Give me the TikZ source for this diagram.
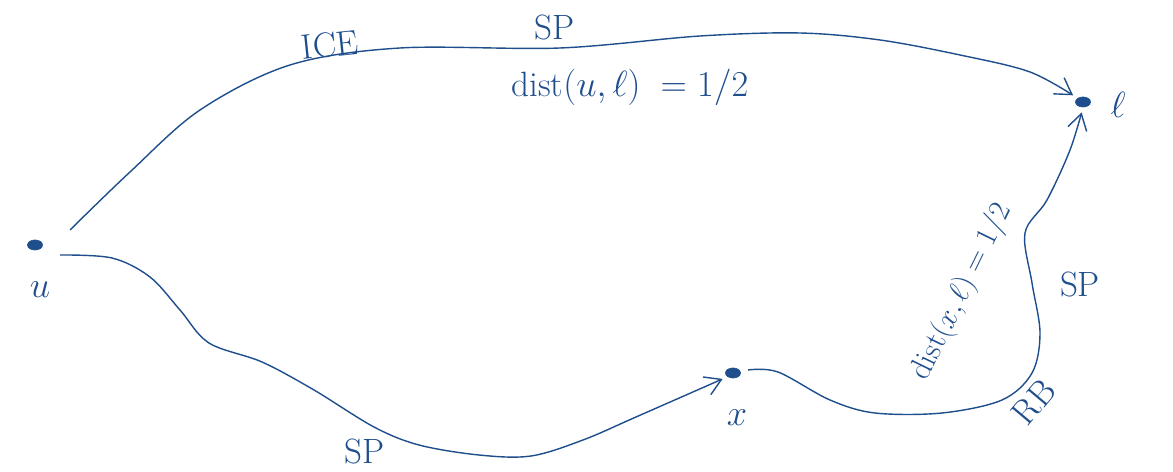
\documentclass[tikz,border=0pt]{standalone}
\usetikzlibrary{arrows.meta,calc,shapes.geometric}
\definecolor{ink}{HTML}{1F4E8C}
\begin{document}
\begin{tikzpicture}[x=0.02cm,y=-0.02cm,
  dot/.style={ellipse,fill=ink,draw=ink,minimum width=0.3cm,minimum height=0.2cm,inner sep=0pt},
  lab/.style={text=ink,font=\fontsize{20}{24}\selectfont,inner sep=1pt},
  edge/.style={draw=ink,line width=0.8pt},
  tip/.style={-{Straight Barb[length=9pt,width=11pt]},shorten >=3pt}]
\useasboundingbox (0,0) rectangle (1173,472);
% vertices
\node[dot] (u) at (35,245) {};
\node[dot] (x) at (733,373) {};
\node[dot] (l) at (1083,102) {};
\node[lab] (ul) at (40,290) {$u$};
\node[lab] (xl) at (737,418) {$x$};
\node[lab] (ll) at (1118,105) {$\ell$};
% start points
\coordinate (us) at ($(u)+(35,-15)$);
\coordinate (ub) at ($(u)+(25,10)$);
\coordinate (xs) at ($(x)+(15,-3)$);
% top path u -> l
\draw[edge,tip] plot[smooth,tension=0.55] coordinates {(us) (130,172) (200,110) (290,65) (400,48) (560,48) (700,36) (800,33) (880,40) (960,55) (1030,72) (l.north west)};
% bottom path u -> x
\draw[edge,tip] plot[smooth,tension=0.55] coordinates {(ub) (112,258) (150,277) (180,310) (209,343) (262,362) (314,390) (374,427) (419,445) (479,455) (531,456) (583,440) (636,417) (x.south west)};
% right path x -> l
\draw[edge,tip] plot[smooth,tension=0.55] coordinates {(xs) (778,372) (830,400) (875,413) (942,413) (1002,400) (1032,373) (1040,333) (1032,283) (1025,233) (1047,200) (1070,150) (l.south)};
% labels
\node[lab,rotate=6] (ice) at (330,45) {ICE};
\node[lab] (sptop) at (555,28) {SP};
\node[lab] (dul) at (630,87) {dist$(u,\ell)\;=1/2$};
\node[lab] (spr) at (1080,285) {SP};
\node[lab,rotate=50] (rb) at (1034,402) {RB};
\node[lab] (spb) at (365,452) {SP};
\node[lab,rotate=64,font=\fontsize{18}{22}\selectfont] (dxl) at (962,292) {dist$(x,\ell)=1/2$};
\end{tikzpicture}
\end{document}
